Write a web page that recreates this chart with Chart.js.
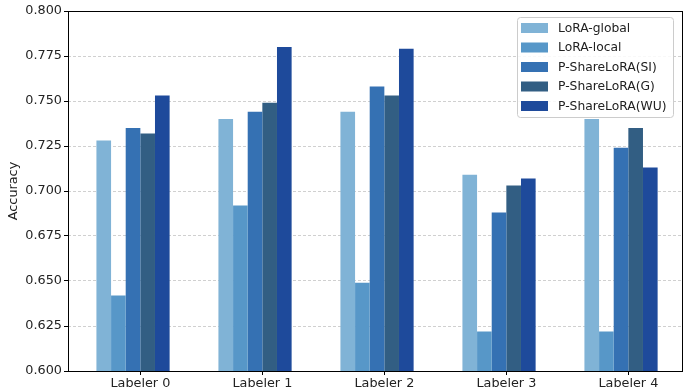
<!DOCTYPE html>
<html>
<head>
    <title>Accuracy per Labeler</title>
    <script src="https://cdn.jsdelivr.net/npm/chart.js"></script>
    <style>
        html, body { margin: 0; padding: 0; background: #fff; }
        canvas { display: block; }
    </style>
</head>
<body>
    <canvas id="accChart" width="686" height="392"></canvas>

    <script>
        const labelers = ["Labeler 0", "Labeler 1", "Labeler 2", "Labeler 3", "Labeler 4"];
        const seriesNames = ["LoRA-global", "LoRA-local", "P-ShareLoRA(SI)", "P-ShareLoRA(G)", "P-ShareLoRA(WU)"];
        const loraGlobal = [0.728, 0.740, 0.744, 0.709, 0.740];
        const loraLocal = [0.642, 0.692, 0.649, 0.622, 0.622];
        const shareSI = [0.735, 0.744, 0.758, 0.688, 0.724];
        const shareG = [0.732, 0.749, 0.753, 0.703, 0.735];
        const shareWU = [0.753, 0.780, 0.779, 0.707, 0.713];
        const yTicks = [0.600, 0.625, 0.650, 0.675, 0.700, 0.725, 0.750, 0.775, 0.800];

        const colors = ['#80b3d6', '#5797c8', '#3571b3', '#325e83', '#1e4a9b'];
        const allSeries = [loraGlobal, loraLocal, shareSI, shareG, shareWU];

        const font = { family: 'DejaVu Sans', size: 12.8 };
        Chart.defaults.font.family = 'DejaVu Sans';
        Chart.defaults.color = '#222';

        const datasets = allSeries.map((vals, k) => ({
            label: seriesNames[k],
            data: vals.map((v, i) => ({ x: i, y: v })),
            backgroundColor: colors[k],
            borderWidth: 0,
            categoryPercentage: 0.6,
            barPercentage: 1.0
        }));

        // legend box in the top-right corner + the four spines
        const frameAndLegend = {
            id: 'frameAndLegend',
            afterDraw(chart) {
                const { ctx, chartArea: a } = chart;
                ctx.save();
                ctx.strokeStyle = '#000';
                ctx.lineWidth = 1;
                ctx.strokeRect(a.left + 0.5, a.top + 0.5, a.right - a.left - 1, a.bottom - a.top);

                const w = 156, h = 100;
                const x0 = a.right - 10 - w, y0 = a.top + 6;
                ctx.fillStyle = 'rgba(255,255,255,0.85)';
                ctx.strokeStyle = '#cccccc';
                ctx.beginPath();
                ctx.roundRect(x0 + 0.5, y0 + 0.5, w, h, 3);
                ctx.fill();
                ctx.stroke();

                ctx.font = '12.3px DejaVu Sans';
                ctx.textBaseline = 'middle';
                ctx.textAlign = 'left';
                seriesNames.forEach((name, k) => {
                    const cy = y0 + 11 + k * 19.5;
                    ctx.fillStyle = colors[k];
                    ctx.fillRect(x0 + 4, cy - 5, 27, 10);
                    ctx.fillStyle = '#222';
                    ctx.fillText(name, x0 + 41, cy + 0.5);
                });
                ctx.restore();
            }
        };

        const ctx = document.getElementById('accChart').getContext('2d');
        const accChart = new Chart(ctx, {
            type: 'bar',
            data: { datasets },
            options: {
                responsive: false,
                animation: false,
                layout: { padding: { left: 0, right: 3, top: 11, bottom: 0 } },
                scales: {
                    x: {
                        type: 'linear',
                        offset: false,
                        min: -0.533,
                        max: 4.508,
                        afterFit: s => { s.height = 21; },
                        afterBuildTicks: s => {
                            s.ticks = labelers.map((_, i) => ({ value: i + 0.06 }));
                        },
                        ticks: {
                            font,
                            color: '#222',
                            padding: 1,
                            maxRotation: 0,
                            autoSkip: false,
                            callback: (v, idx) => labelers[idx]
                        },
                        grid: {
                            offset: false,
                            drawOnChartArea: false,
                            tickLength: 4,
                            tickColor: '#000',
                            color: '#000'
                        },
                        border: { display: false }
                    },
                    y: {
                        min: 0.6,
                        max: 0.8,
                        z: 1,
                        afterFit: s => { s.width = 68; },
                        afterBuildTicks: s => {
                            s.ticks = yTicks.map(v => ({ value: v }));
                        },
                        ticks: {
                            font,
                            color: '#222',
                            padding: 2,
                            callback: v => v.toFixed(3)
                        },
                        grid: {
                            color: 'rgba(170,170,170,0.7)',
                            lineWidth: 0.8,
                            tickLength: 4,
                            tickColor: '#000',
                            tickBorderDash: [],
                            tickWidth: 1
                        },
                        border: { display: false, dash: [3, 2] },
                        title: {
                            display: true,
                            text: 'Accuracy',
                            font,
                            color: '#222',
                            padding: { top: 6, bottom: 0 }
                        }
                    }
                },
                plugins: {
                    legend: { display: false },
                    tooltip: { enabled: false }
                }
            },
            plugins: [frameAndLegend]
        });
    </script>
</body>
</html>
